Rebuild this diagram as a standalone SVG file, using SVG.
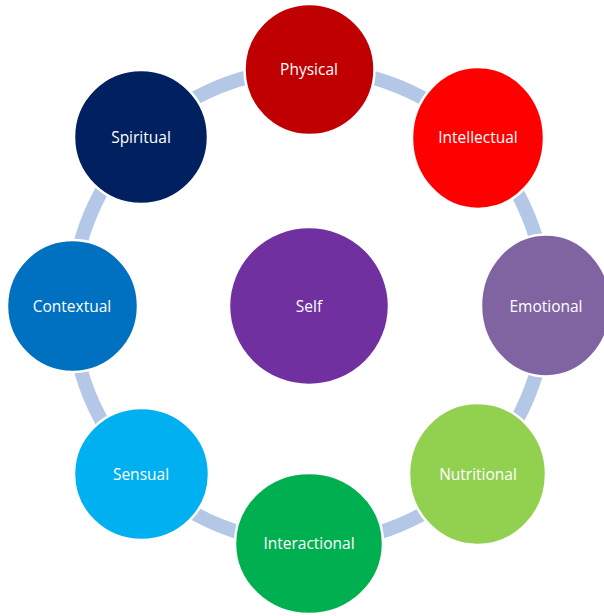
<svg xmlns="http://www.w3.org/2000/svg" width="604" height="616" viewBox="0 0 604 616">
<style>
.conn{fill:none;stroke:#B4C7E7;stroke-width:14}
.node{stroke:#FFFFFF;stroke-width:2.5}
.lbl{font-family:"Open Sans","Noto Sans",sans-serif;font-size:15.5px;fill:#FFFFFF;text-anchor:middle;dominant-baseline:central}
</style>
<rect width="604" height="616" fill="#FFFFFF"/>
<g id="connectors">
<path class="conn" d="M309,69 A237,237 0 0 1 476.6,138.4"/>
<path class="conn" d="M476.6,138.4 A237,237 0 0 1 546,306"/>
<path class="conn" d="M546,306 A237,237 0 0 1 476.6,473.6"/>
<path class="conn" d="M476.6,473.6 A237,237 0 0 1 309,543"/>
<path class="conn" d="M309,543 A237,237 0 0 1 141.4,473.6"/>
<path class="conn" d="M141.4,473.6 A237,237 0 0 1 72,306"/>
<path class="conn" d="M72,306 A237,237 0 0 1 141.4,138.4"/>
<path class="conn" d="M141.4,138.4 A237,237 0 0 1 309,69"/>
</g>
<g id="self"><ellipse class="node" cx="309" cy="306" rx="80" ry="79" fill="#7030A0"/><text class="lbl" x="309" y="306">Self</text></g>
<g id="physical"><ellipse class="node" cx="309.5" cy="69.5" rx="65" ry="65.5" fill="#C00000"/><text class="lbl" x="309" y="69">Physical</text></g>
<g id="intellectual"><ellipse class="node" cx="478" cy="138" rx="66" ry="71" fill="#FF0000"/><text class="lbl" x="478" y="137">Intellectual</text></g>
<g id="emotional"><ellipse class="node" cx="546" cy="305.5" rx="65" ry="71" fill="#8064A2"/><text class="lbl" x="546" y="306">Emotional</text></g>
<g id="nutritional"><ellipse class="node" cx="477.5" cy="474" rx="68.5" ry="71" fill="#92D050"/><text class="lbl" x="478" y="474">Nutritional</text></g>
<g id="interactional"><ellipse class="node" cx="309" cy="543.5" rx="74" ry="70.5" fill="#00B050"/><text class="lbl" x="309" y="543">Interactional</text></g>
<g id="sensual"><ellipse class="node" cx="141.5" cy="474" rx="67.5" ry="66" fill="#00B0F0"/><text class="lbl" x="141" y="474">Sensual</text></g>
<g id="contextual"><ellipse class="node" cx="72.5" cy="306" rx="65.5" ry="66" fill="#0070C0"/><text class="lbl" x="72" y="306">Contextual</text></g>
<g id="spiritual"><ellipse class="node" cx="141" cy="137" rx="67" ry="67" fill="#002060"/><text class="lbl" x="141" y="137">Spiritual</text></g>
</svg>
